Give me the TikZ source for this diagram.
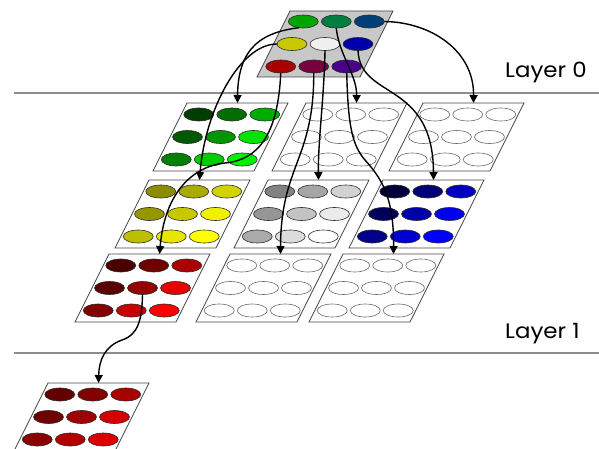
\documentclass[tikz,border=0pt]{standalone}
\usepackage{fontspec}
\newfontfamily\layerfont{Poppins}
\usetikzlibrary{shapes.geometric,arrows.meta,calc}

\definecolor{panelline}{RGB}{70,70,70}
\definecolor{dotline}{RGB}{45,45,45}
\definecolor{blankline}{RGB}{105,105,105}
\definecolor{topfill}{RGB}{200,200,200}
\definecolor{rulecol}{RGB}{140,140,140}

% 3x3 grid of coloured ellipses on a slanted panel: row/col/R/G/B
\newcommand\dotgrid[2]{%
  \foreach \r/\c/\R/\G/\B in {#2}{%
    \definecolor{dotfill}{RGB}{\R,\G,\B}%
    \node[dot, fill=dotfill] (#1d\r\c)
      at ($(#1.center)+({33*(\c-1)-11.25*(\r-1)},{22.5*(\r-1)})$) {};
  }%
}
% 3x3 grid of empty ellipses
\newcommand\blankgrid[1]{%
  \foreach \r in {0,1,2}{\foreach \c in {0,1,2}{%
    \node[blankdot] (#1d\r\c)
      at ($(#1.center)+({33*(\c-1)-11.25*(\r-1)},{22.5*(\r-1)})$) {};
  }}%
}

\tikzset{
  panel/.style={draw=panelline, line width=0.7pt, fill=white, xslant=0.5,
    minimum width=101pt, minimum height=68pt, inner sep=0pt, outer sep=0pt},
  dot/.style={ellipse, draw=dotline, line width=0.6pt, minimum width=30pt,
    minimum height=13pt, inner sep=0pt, outer sep=0pt},
  blankdot/.style={dot, draw=blankline, fill=white},
  link/.style={line width=1.4pt, -{Triangle[length=8pt,width=8pt]}},
  layerrule/.style={draw=rulecol, line width=1.2pt},
  layertext/.style={font=\layerfont\fontsize{21}{25}\selectfont, anchor=base west,
    inner sep=0pt, xscale=1.09},
}

\begin{document}
\begin{tikzpicture}[x=1pt, y=-1pt]
\useasboundingbox (0,0) rectangle (599,449);

% layer separators and labels
\draw[layerrule] (14,93) -- (599,93);
\draw[layerrule] (14,353) -- (599,353);
\node[layertext] (lay0) at (505,77.5) {Layer 0};
\node[layertext] (lay1) at (505,338) {Layer 1};

% layer 0 panel
\node[panel, fill=topfill, minimum width=103pt, minimum height=66pt] (t) at (325,44) {};
\dotgrid{t}{0/0/0/165/0, 0/1/0/125/65, 0/2/0/62/120,
            1/0/200/200/0, 1/1/240/240/240, 1/2/0/0/170,
            2/0/170/0/0, 2/1/120/0/65, 2/2/75/0/140}

% layer 1 panels
\node[panel] (p00) at (220.5,137) {};
\node[panel] (p01) at (339.5,137) {};
\node[panel] (p02) at (456.5,137) {};
\node[panel] (p10) at (182.5,214) {};
\node[panel] (p11) at (301.5,214) {};
\node[panel] (p12) at (416.5,214) {};
\node[panel] (p20) at (142.5,288) {};
\node[panel] (p21) at (263.5,288) {};
\node[panel] (p22) at (376.5,288) {};

\dotgrid{p00}{0/0/0/62/0, 0/1/0/110/0, 0/2/0/172/0,
              1/0/0/88/0, 1/1/0/150/0, 1/2/0/228/0,
              2/0/0/128/0, 2/1/0/205/0, 2/2/0/240/0}
\blankgrid{p01}
\blankgrid{p02}
\dotgrid{p10}{0/0/140/140/0, 0/1/170/170/0, 0/2/210/210/0,
              1/0/150/150/0, 1/1/200/200/0, 1/2/240/240/0,
              2/0/190/190/0, 2/1/230/230/0, 2/2/255/255/0}
\dotgrid{p11}{0/0/130/130/130, 0/1/165/165/165, 0/2/210/210/210,
              1/0/150/150/150, 1/1/195/195/195, 1/2/235/235/235,
              2/0/170/170/170, 2/1/220/220/220, 2/2/255/255/255}
\dotgrid{p12}{0/0/0/0/60, 0/1/0/0/120, 0/2/0/0/190,
              1/0/0/0/90, 1/1/0/0/170, 1/2/0/0/240,
              2/0/0/0/140, 2/1/0/0/210, 2/2/0/0/255}
\dotgrid{p20}{0/0/75/0/0, 0/1/110/0/0, 0/2/170/0/0,
              1/0/90/0/0, 1/1/150/0/0, 1/2/230/0/0,
              2/0/130/0/0, 2/1/200/0/0, 2/2/255/0/0}
\blankgrid{p21}
\blankgrid{p22}

% next layer panel
\node[panel] (q) at (81.5,417) {};
\dotgrid{q}{0/0/100/0/0, 0/1/130/0/0, 0/2/170/0/0,
            1/0/110/0/0, 1/1/160/0/0, 1/2/210/0/0,
            2/0/140/0/0, 2/1/180/0/0, 2/2/220/0/0}

% connections from layer 0 to layer 1
\draw[link] (td00.235) .. controls (265,32) and (238,45) .. (p00.north);
\draw[link] (td01.south) .. controls (339,55) and (357,75) .. (p01.north);
\draw[link] (td02.east) .. controls (430,22) and (474,50) .. (p02.north);
\draw[link] (td10.west) .. controls (240,44) and (205,110) .. (p10.north);
\draw[link] (td11.south) .. controls (324,100) and (318,140) .. (p11.north);
\draw[link] (td12.south) .. controls (360,100) and (433,80) .. (p12.north);
\draw[link] (td20.south) .. controls (278,135) and (258,160) .. (225,163)
  .. controls (195,166) and (165,190) .. (p20.north);
\draw[link] (td21.south) .. controls (314,160) and (281,165) .. (p21.north);
\draw[link] (td22.south) .. controls (348,125) and (352,145) .. (365,160)
  .. controls (380,177) and (394,195) .. (p22.north);

% connection from layer 1 onwards
\draw[link] (p20d11.south) .. controls (142,320) and (138,335) .. (122,340)
  .. controls (105,346) and (99,360) .. (q.north);
\end{tikzpicture}
\end{document}
